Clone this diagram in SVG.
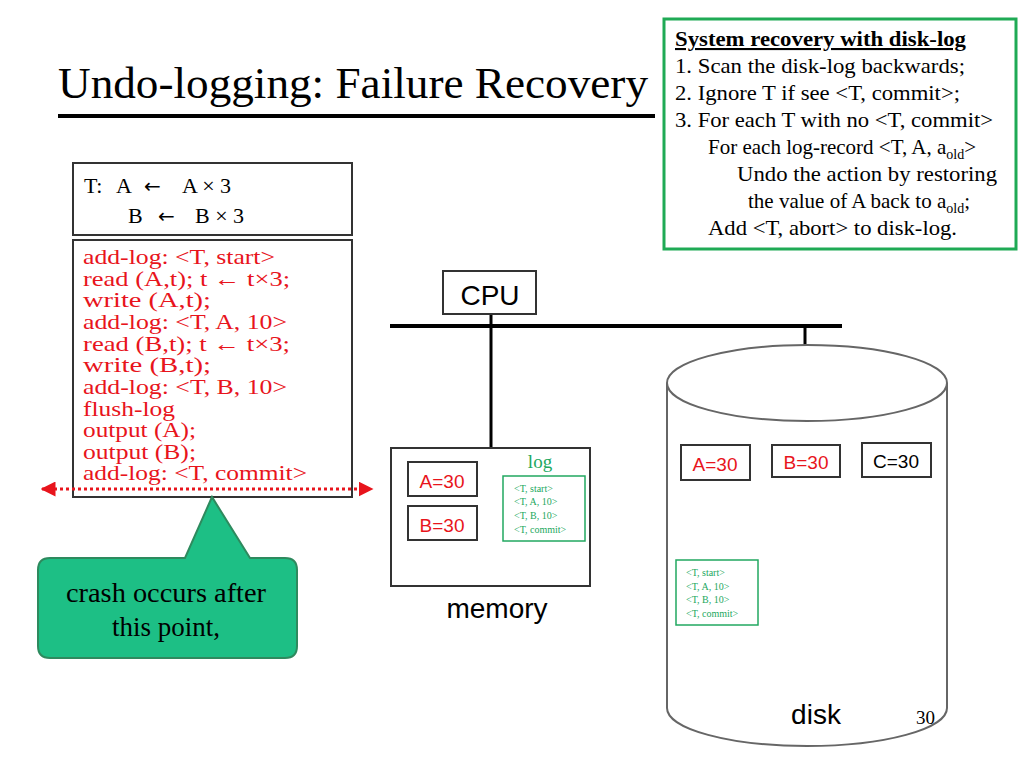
<svg xmlns="http://www.w3.org/2000/svg" width="1024" height="768" viewBox="0 0 1024 768">
<style>
.t{font-family:"Liberation Serif",serif}
.s{font-family:"Liberation Sans",sans-serif}
.red{fill:#e8141c}
.grn{fill:#22a860}
.box{fill:#fff;stroke:#333;stroke-width:2}
</style>
<defs>
<marker id="ah" viewBox="0 0 10 10" refX="9" refY="5" markerWidth="5" markerHeight="5" orient="auto-start-reverse"><path d="M0,0L10,5L0,10z" fill="#e8141c"/></marker>
</defs>
<rect width="1024" height="768" fill="#fff"/>
<text class="t" x="58" y="98" font-size="44" textLength="590" lengthAdjust="spacingAndGlyphs">Undo-logging: Failure Recovery</text>
<line x1="58" y1="116" x2="655" y2="116" stroke="#000" stroke-width="4"/>
<g id="recovery">
<rect x="664" y="19" width="352" height="230" fill="#fff" stroke="#1faa55" stroke-width="3"/>
<text class="t" font-size="21">
<tspan x="675" y="46" font-weight="bold" text-decoration="underline" textLength="291" lengthAdjust="spacingAndGlyphs">System recovery with disk-log</tspan>
<tspan x="675" y="73" textLength="290" lengthAdjust="spacingAndGlyphs">1. Scan the disk-log backwards;</tspan>
<tspan x="675" y="100" textLength="285" lengthAdjust="spacingAndGlyphs">2. Ignore T if see &lt;T, commit&gt;;</tspan>
<tspan x="675" y="127" textLength="318" lengthAdjust="spacingAndGlyphs">3. For each T with no &lt;T, commit&gt;</tspan>
<tspan x="708" y="154">For each log-record &lt;T, A, a<tspan font-size="14" dy="5">old</tspan><tspan dy="-5">&gt;</tspan></tspan>
<tspan x="737" y="181" textLength="260" lengthAdjust="spacingAndGlyphs">Undo the action by restoring</tspan>
<tspan x="748" y="208">the value of A back to a<tspan font-size="14" dy="5">old</tspan><tspan dy="-5">;</tspan></tspan>
<tspan x="708" y="235" textLength="249" lengthAdjust="spacingAndGlyphs">Add &lt;T, abort&gt; to disk-log.</tspan>
</text>
</g>
<g id="tdef">
<rect class="box" x="73" y="163" width="279" height="72"/>
<text class="t" font-size="22"><tspan x="84" y="193">T:</tspan><tspan x="116" y="193">A</tspan><tspan x="144" y="193" font-family="DejaVu Sans, sans-serif" font-size="20">←</tspan><tspan x="182" y="193">A × 3</tspan><tspan x="128" y="223">B</tspan><tspan x="158" y="223" font-family="DejaVu Sans, sans-serif" font-size="20">←</tspan><tspan x="195" y="223">B × 3</tspan></text>
</g>
<g id="code">
<rect class="box" x="73" y="240" width="279" height="257"/>
<text class="t red" font-size="21">
<tspan x="83" y="264" textLength="192" lengthAdjust="spacingAndGlyphs">add-log: &lt;T, start&gt;</tspan>
<tspan x="83" y="286" textLength="207" lengthAdjust="spacingAndGlyphs">read (A,t);  t ← t×3;</tspan>
<tspan x="83" y="307" textLength="128" lengthAdjust="spacingAndGlyphs">write (A,t);</tspan>
<tspan x="83" y="329" textLength="204" lengthAdjust="spacingAndGlyphs">add-log: &lt;T, A, 10&gt;</tspan>
<tspan x="83" y="351" textLength="207" lengthAdjust="spacingAndGlyphs">read (B,t);  t ← t×3;</tspan>
<tspan x="83" y="372" textLength="128" lengthAdjust="spacingAndGlyphs">write (B,t);</tspan>
<tspan x="83" y="394" textLength="204" lengthAdjust="spacingAndGlyphs">add-log: &lt;T, B, 10&gt;</tspan>
<tspan x="83" y="416" textLength="92" lengthAdjust="spacingAndGlyphs">flush-log</tspan>
<tspan x="83" y="437" textLength="113" lengthAdjust="spacingAndGlyphs">output (A);</tspan>
<tspan x="83" y="459" textLength="113" lengthAdjust="spacingAndGlyphs">output (B);</tspan>
<tspan x="83" y="480" textLength="224" lengthAdjust="spacingAndGlyphs">add-log: &lt;T, commit&gt;</tspan>
</text>
</g>
<g id="connectors">
<line x1="42" y1="489" x2="372" y2="489" stroke="#e8141c" stroke-width="3" stroke-dasharray="3,3" marker-start="url(#ah)" marker-end="url(#ah)"/>
<line x1="390" y1="326" x2="842" y2="326" stroke="#000" stroke-width="4"/>
<line x1="491" y1="314" x2="491" y2="448" stroke="#000" stroke-width="3"/>
<line x1="805" y1="326" x2="805" y2="387" stroke="#000" stroke-width="3"/>
</g>
<g id="callout">
<path d="M50,558 H185 L212,497 L250,558 H285 Q297,558 297,570 V646 Q297,658 285,658 H50 Q38,658 38,646 V570 Q38,558 50,558 Z" fill="#1dbf85" stroke="#2e8a5e" stroke-width="2"/>
<text class="t" font-size="27" text-anchor="middle"><tspan x="166" y="602" textLength="200" lengthAdjust="spacingAndGlyphs">crash occurs after</tspan><tspan x="166" y="636">this point,</tspan></text>
</g>
<g id="cpu">
<rect class="box" x="443" y="271" width="93" height="43"/>
<text class="s" x="490" y="305" font-size="28" text-anchor="middle">CPU</text>
</g>
<g id="disk">
<path d="M667,383 V708 A140,38 0 0 0 947,708 V383" fill="#fff" stroke="#666" stroke-width="2"/>
<ellipse cx="807" cy="383" rx="140" ry="38" fill="#fff" stroke="#666" stroke-width="2"/>
<rect class="box" x="681" y="445" width="69" height="35"/>
<text class="s red" x="715" y="471" font-size="19" text-anchor="middle">A=30</text>
<rect class="box" x="772" y="445" width="68" height="32"/>
<text class="s red" x="806" y="469" font-size="19" text-anchor="middle">B=30</text>
<rect class="box" x="862" y="443" width="69" height="34"/>
<text class="s" x="896" y="468" font-size="19" text-anchor="middle">C=30</text>
<rect x="676" y="560" width="82" height="65" fill="#fff" stroke="#22a860" stroke-width="1.5"/>
<text class="t grn" font-size="10"><tspan x="686" y="576">&lt;T, start&gt;</tspan><tspan x="686" y="590">&lt;T, A, 10&gt;</tspan><tspan x="686" y="603">&lt;T, B, 10&gt;</tspan><tspan x="686" y="617">&lt;T, commit&gt;</tspan></text>
<text class="s" x="816" y="724" font-size="28" text-anchor="middle">disk</text>
</g>
<g id="memory">
<rect class="box" x="391" y="448" width="199" height="138"/>
<rect class="box" x="408" y="462" width="69" height="34"/>
<text class="s red" x="442" y="488" font-size="19" text-anchor="middle">A=30</text>
<rect class="box" x="408" y="506" width="69" height="34"/>
<text class="s red" x="442" y="532" font-size="19" text-anchor="middle">B=30</text>
<text class="t grn" x="540" y="468" font-size="19" text-anchor="middle">log</text>
<rect x="503" y="476" width="82" height="65" fill="#fff" stroke="#22a860" stroke-width="1.5"/>
<text class="t grn" font-size="10"><tspan x="514" y="492">&lt;T, start&gt;</tspan><tspan x="514" y="505">&lt;T, A, 10&gt;</tspan><tspan x="514" y="519">&lt;T, B, 10&gt;</tspan><tspan x="514" y="533">&lt;T, commit&gt;</tspan></text>
<text class="s" x="497" y="618" font-size="28" text-anchor="middle">memory</text>
</g>
<text class="t" x="916" y="724" font-size="19">30</text>
</svg>
